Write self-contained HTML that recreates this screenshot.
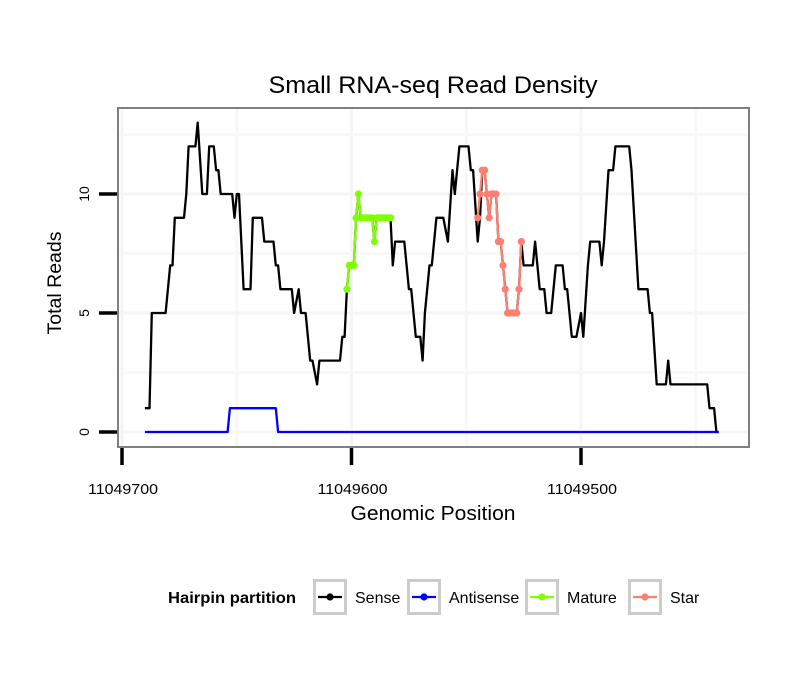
<!DOCTYPE html>
<html><head><meta charset="utf-8"><style>
body{margin:0;background:#fff;}
svg text{font-family:"Liberation Sans",sans-serif;}
</style></head><body>
<svg id="chart" width="810" height="690" viewBox="0 0 810 690" xmlns="http://www.w3.org/2000/svg">
<rect width="810" height="690" fill="#fff"/>
<text x="433" y="93" font-size="24" text-anchor="middle" fill="#000" textLength="329" lengthAdjust="spacingAndGlyphs">Small RNA-seq Read Density</text>
<g id="grid"></g>
<g id="series"></g>
<rect x="118" y="108" width="631" height="339" fill="none" stroke="#808080" stroke-width="2"/>
<g id="axes"></g>
<text x="433" y="520" font-size="20" text-anchor="middle" textLength="165" lengthAdjust="spacingAndGlyphs">Genomic Position</text>
<text transform="translate(61,283) rotate(-90)" font-size="19" text-anchor="middle" textLength="103" lengthAdjust="spacingAndGlyphs">Total Reads</text>
<g id="legend">
<text x="168" y="603" font-size="16" font-weight="bold" textLength="128" lengthAdjust="spacingAndGlyphs">Hairpin partition</text>
</g>
</svg>
<script>
const base = 11049700;
const senseOffsets = [10,12,13,19,21,22,23,27,28,29,32,33,35,37,38,40,41,42,43,48,49,50,51,53,56,57,61,62,66,67,68,69,74,75,77,78,80,82,83,85,86,95,96,97,98,99,101,102,103,104,109,110,111,117,118,119,123,125,126,128,130,131,132,134,135,137,140,142,144,145,147,151,152,153,155,156,157,158,159,160,161,163,164,165,166,167,168,172,173,174,175,179,180,182,184,185,187,189,192,193,194,196,198,200,201,203,204,208,209,210,212,214,215,221,222,225,229,230,231,233,237,238,239,255,256,258,259,260];
const senseValues  = [1,1,5,5,7,7,9,9,10,12,12,13,10,10,12,12,11,11,10,10,9,10,10,6,6,9,9,8,8,7,7,6,6,5,6,5,5,3,3,2,3,3,4,4,6,7,7,9,10,9,9,8,9,9,7,8,8,6,6,4,4,3,5,7,7,9,9,8,11,10,12,12,11,11,8,9,11,11,10,9,10,10,8,8,7,6,5,5,6,8,7,7,8,6,6,5,5,7,7,6,6,4,4,5,4,7,8,8,7,8,11,11,12,12,11,6,6,5,5,2,2,3,2,2,1,1,0,0];
const antiOffsets = [10,46,47,67,68,260];
const antiValues  = [0,0,1,1,0,0];
const matureOffsets = [98,99,100,101,102,103,104,105,106,107,108,109,110,111,112,113,114,115,116,117];
const matureValues  = [6,7,7,7,9,10,9,9,9,9,9,9,8,9,9,9,9,9,9,9];
const starOffsets = [155,156,157,158,159,160,161,162,163,164,165,166,167,168,169,170,171,172,173,174];
const starValues  = [9,10,11,11,10,9,10,10,10,8,8,7,6,5,5,5,5,5,6,8];
const xTicks = [11049700,11049600,11049500];
const xTickLabels = ["11049700","11049600","11049500"];
const xMinor = [11049650,11049550,11049450];
const yTicks = [0,5,10];
const yMinor = [2.5,7.5,12.5];

const NS="http://www.w3.org/2000/svg";
function X(pos){return 122 + (base - pos)*2.295;}
function Y(v){return 432 - v*23.8;}
function el(tag,attrs,parent){const e=document.createElementNS(NS,tag);for(const k in attrs)e.setAttribute(k,attrs[k]);parent.appendChild(e);return e;}
const grid=document.getElementById('grid'), series=document.getElementById('series'), axes=document.getElementById('axes'), legend=document.getElementById('legend');
el('rect',{x:118,y:108,width:631,height:339,fill:'#fff'},grid);
xMinor.forEach(p=>{const l=el('line',{x1:X(p),x2:X(p),y1:109,y2:446,stroke:'#f8f8f8','stroke-width':3},grid);

});
xTicks.forEach(p=>{const l=el('line',{x1:X(p),x2:X(p),y1:109,y2:446,stroke:'#f5f5f5','stroke-width':3},grid);

});
yMinor.forEach(v=>{const l=el('line',{x1:119,x2:748,y1:Y(v),y2:Y(v),stroke:'#f8f8f8','stroke-width':3},grid);

});
yTicks.forEach(v=>{const l=el('line',{x1:119,x2:748,y1:Y(v),y2:Y(v),stroke:'#f5f5f5','stroke-width':3},grid);

});

function line(offs,vals,color,name){
  const pts=offs.map((o,i)=>X(base-o).toFixed(1)+','+Y(vals[i]).toFixed(1)).join(' ');
  const p=el('polyline',{points:pts,fill:'none',stroke:color,'stroke-width':2.3,'stroke-linejoin':'round'},series);
  
  
}
function dots(offs,vals,color,name){
  offs.forEach((o,i)=>{const c=el('circle',{cx:X(base-o),cy:Y(vals[i]),r:3.6,fill:color},series);
  
  });
}
line(senseOffsets,senseValues,'#000','sense-line');
line(antiOffsets,antiValues,'#0000ff','antisense-line');
line(matureOffsets,matureValues,'#7fff00','mature-line');
dots(matureOffsets,matureValues,'#7fff00','mature-point');
line(starOffsets,starValues,'#fa8072','star-line');
dots(starOffsets,starValues,'#fa8072','star-point');

xTicks.forEach((p,i)=>{
  const t=el('line',{x1:X(p),x2:X(p),y1:448,y2:465,stroke:'#000','stroke-width':3.5},axes);
  
  
  const tx=el('text',{x:X(p)+1,y:494,'font-size':15,'text-anchor':'middle',textLength:70,lengthAdjust:'spacingAndGlyphs'},axes);
  tx.textContent=xTickLabels[i];
  
  
});
yTicks.forEach(v=>{
  const t=el('line',{x1:99,x2:117,y1:Y(v),y2:Y(v),stroke:'#000','stroke-width':3.5},axes);
  
  
  const tx=el('text',{transform:`translate(89,${Y(v)}) rotate(-90)`,'font-size':14,'text-anchor':'middle'},axes);
  tx.textContent=String(v);
  
  
});

const legNames=['Sense','Antisense','Mature','Star'];
const legColors=['#000','#0000ff','#7fff00','#fa8072'];
const legBoxX=[313,407,525,628];
legNames.forEach((n,i)=>{
  const g=el('g',{},legend);
  
  
  const bx=legBoxX[i];
  el('rect',{x:bx+1.5,y:580.5,width:31,height:33,fill:'#fff',stroke:'#cccccc','stroke-width':3},g);
  el('line',{x1:bx+5,x2:bx+29,y1:597,y2:597,stroke:legColors[i],'stroke-width':2.3},g);
  el('circle',{cx:bx+17,cy:597,r:3.6,fill:legColors[i]},g);
  const t=el('text',{x:bx+42,y:603,'font-size':16},g);
  t.textContent=n;
});
</script>
</body></html>
